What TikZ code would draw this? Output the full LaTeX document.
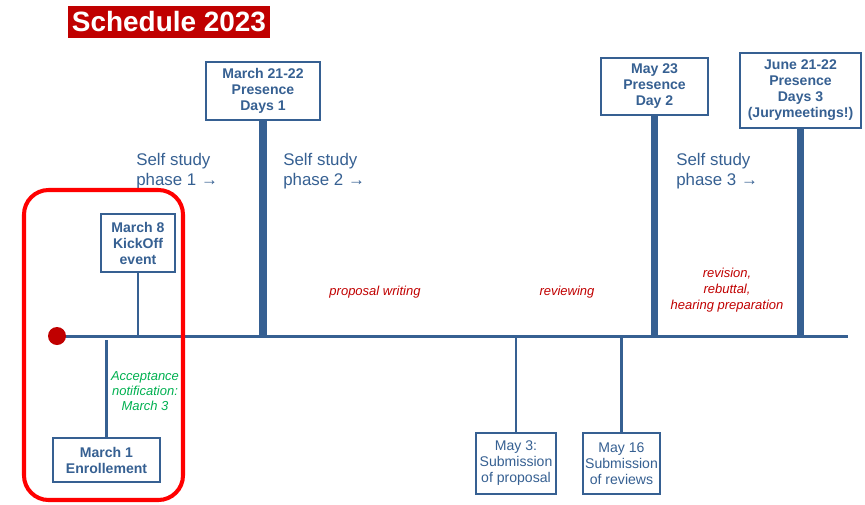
\documentclass[tikz,border=0pt]{standalone}
\usepackage{fontspec}
\setmainfont{Liberation Sans}
\definecolor{tlblue}{RGB}{54,96,146}
\definecolor{darkred}{RGB}{192,0,0}
\definecolor{notegreen}{RGB}{0,176,80}
\tikzset{
  datebox/.style={draw=tlblue,line width=1.6pt,fill=white,text=tlblue,align=center,
    font=\bfseries\fontsize{8}{9.1}\selectfont,inner sep=0pt},
  subbox/.style={datebox,font=\fontsize{8}{9.1}\selectfont},
  bigstem/.style={tlblue,line width=4pt},
  smallstem/.style={tlblue,line width=1.4pt},
  phase/.style={text=tlblue,align=left,anchor=west,inner sep=0pt,font=\fontsize{9.6}{11.3}\selectfont},
  task/.style={text=darkred,align=center,inner sep=0pt,font=\itshape\fontsize{7.4}{9}\selectfont}
}
\begin{document}
\begin{tikzpicture}[x=0.02cm,y=-0.02cm,line cap=butt]
  \useasboundingbox (0,0) rectangle (865,504);
  % title
  \node[fill=darkred,text=white,font=\bfseries\fontsize{15.9}{18}\selectfont,
    minimum width=202*0.02cm,minimum height=32*0.02cm,inner sep=0pt] (title) at (169,22) {Schedule 2023};
  % time line
  \coordinate (start) at (57,336);
  \coordinate (end) at (848,336);
  \draw[tlblue,line width=1.7pt] (start) -- (end);
  % boxes above the line
  \node[datebox,minimum width=114*0.02cm,minimum height=58*0.02cm] (pd1) at (263,91) {March 21-22\\Presence\\Days 1};
  \node[datebox,minimum width=107*0.02cm,minimum height=57*0.02cm] (pd2) at (654.5,86.5) {May 23\\Presence\\Day 2};
  \node[datebox,minimum width=121*0.02cm,minimum height=75*0.02cm] (pd3) at (800.5,90.5) {June 21-22\\Presence\\Days 3\\(Jurymeetings!)};
  \node[datebox,minimum width=74*0.02cm,minimum height=58*0.02cm] (kick) at (138,243) {March 8\\KickOff\\event};
  \draw[bigstem] (pd1.south) -- (pd1.south |- start);
  \draw[bigstem] (pd2.south) -- (pd2.south |- start);
  \draw[bigstem] (pd3.south) -- (pd3.south |- start);
  \draw[smallstem] (kick.south) -- (kick.south |- start);
  % boxes below the line
  \node[datebox,minimum width=107*0.02cm,minimum height=44*0.02cm] (enrol) at (106.5,460) {March 1\\Enrollement};
  \node[subbox,minimum width=80*0.02cm,minimum height=61*0.02cm] (subm) at (516,463.5) {May 3:\\Submission\\of proposal};
  \node[subbox,minimum width=77*0.02cm,minimum height=61*0.02cm] (revs) at (621.5,463.5) {May 16\\Submission\\of reviews};
  \coordinate (enroltop) at (106.5,340);
  \draw[smallstem] (enrol.north) -- (enroltop);
  \draw[smallstem] (subm.north) -- (subm.north |- start);
  \draw[smallstem] (revs.north) -- (revs.north |- start);
  % start point
  \fill[darkred] (start) circle (9*0.02cm);
  % phases and tasks
  \node[phase] (ph1) at (136,171) {Self study\\phase 1 →};
  \node[phase] (ph2) at (283,171) {Self study\\phase 2 →};
  \node[phase] (ph3) at (676,171) {Self study\\phase 3 →};
  \node[task] (write) at (375,292) {proposal writing};
  \node[task] (review) at (567,292) {reviewing};
  \node[task] (rebut) at (727,290) {revision,\\rebuttal,\\hearing preparation};
  \node[text=notegreen,align=center,inner sep=0pt,font=\itshape\fontsize{7.4}{8.6}\selectfont] (accept) at (145,391) {Acceptance\\notification:\\March 3};
  % highlight frame
  \draw[red,line width=2.3pt,rounded corners=14pt] (24,190) rectangle (183,500);
\end{tikzpicture}
\end{document}
